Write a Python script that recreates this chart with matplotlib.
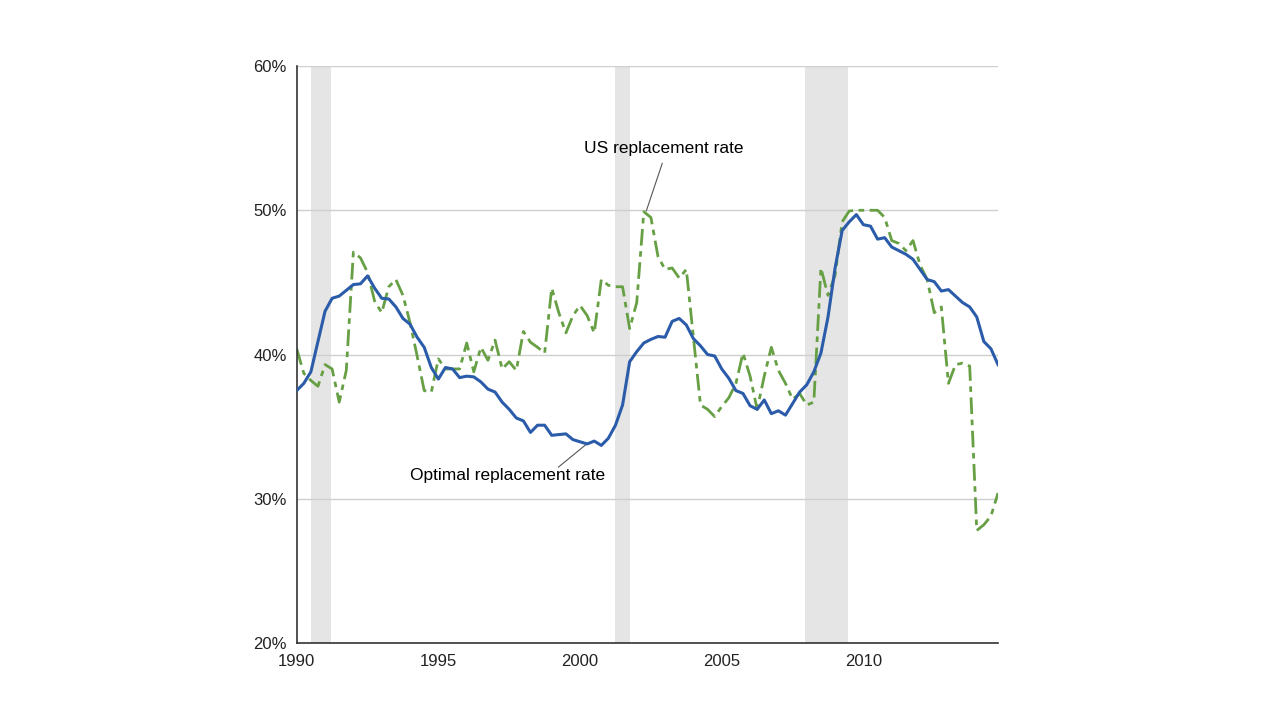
import numpy as np
import matplotlib
matplotlib.use("Agg")
import matplotlib.pyplot as plt
from matplotlib.ticker import FuncFormatter

# quarterly, 1990Q1 .. 2014Q4
quarters = 1990 + np.arange(100) / 4.0

optimal_rate = [
    37.5, 38.0, 38.8, 40.9, 43.0, 43.9, 44.05, 44.45, 44.85, 44.9,
    45.45, 44.6, 43.9, 43.85, 43.3, 42.5, 42.1, 41.2, 40.5, 39.1,
    38.3, 39.1, 39.0, 38.4, 38.5, 38.45, 38.1, 37.6, 37.4, 36.7,
    36.2, 35.6, 35.4, 34.6, 35.1, 35.1, 34.4, 34.45, 34.5, 34.1,
    33.95, 33.8, 34.0, 33.7, 34.2, 35.1, 36.5, 39.5, 40.2, 40.8,
    41.05, 41.25, 41.2, 42.3, 42.5, 42.05, 41.1, 40.6, 40.0, 39.9,
    39.0, 38.35, 37.5, 37.3, 36.45, 36.2, 36.85, 35.9, 36.1, 35.8,
    36.6, 37.4, 37.9, 38.8, 40.1, 42.6, 46.0, 48.6, 49.2, 49.7,
    49.0, 48.9, 48.0, 48.1, 47.45, 47.2, 46.95, 46.6, 45.9, 45.2,
    45.05, 44.4, 44.5, 44.05, 43.6, 43.3, 42.6, 40.9, 40.4, 39.3,
]

us_rate = [
    40.4, 38.7, 38.2, 37.8, 39.3, 39.0, 36.7, 38.9, 47.1, 46.7,
    45.7, 43.7, 42.9, 44.7, 45.2, 44.1, 42.2, 39.9, 37.5, 37.4,
    39.7, 39.0, 39.0, 39.0, 40.8, 38.8, 40.5, 39.6, 41.0, 39.0,
    39.5, 38.9, 41.6, 40.85, 40.5, 40.1, 44.6, 42.9, 41.5, 42.7,
    43.4, 42.7, 41.5, 45.2, 44.8, 44.7, 44.7, 41.8, 43.6, 49.9,
    49.5, 46.8, 45.9, 46.0, 45.3, 45.9, 41.2, 36.5, 36.2, 35.7,
    36.4, 37.0, 38.0, 40.1, 38.5, 36.2, 38.5, 40.5, 38.9, 38.0,
    36.9, 37.3, 36.5, 36.7, 46.0, 44.1, 45.5, 49.2, 49.95, 50.0,
    50.0, 50.0, 50.0, 49.5, 47.9, 47.7, 47.2, 47.9, 46.2, 45.2,
    42.9, 43.3, 38.0, 39.3, 39.4, 39.2, 27.8, 28.2, 28.8, 30.4,
]

recessions = [(1990.5, 1991.22), (2001.25, 2001.75), (2007.95, 2009.45)]

plt.rcParams['font.family'] = ['Liberation Sans', 'DejaVu Sans']

fig = plt.figure(figsize=(12.8, 7.2), dpi=100)
ax = fig.add_axes([0.2318, 0.1069, 0.5479, 0.8014])

for start, end in recessions:
    ax.axvspan(start, end, color='#e5e5e5', lw=0, zorder=0)

ax.plot(quarters, optimal_rate, color='#2b5caa', lw=2.2, zorder=3)
ax.plot(quarters, us_rate, color='#67a044', lw=2.0,
        linestyle=(0, (6, 2, 2, 2)), zorder=2)

ax.set_xlim(1990, 2014.75)
ax.set_ylim(20, 60)
ax.set_yticks([20, 30, 40, 50, 60])
ax.set_xticks([1990, 1995, 2000, 2005, 2010])
ax.yaxis.set_major_formatter(FuncFormatter(lambda v, p: f"{v:.0f}%"))
ax.grid(axis='y', color='#cfcfcf', lw=1, zorder=1)
ax.set_axisbelow(True)

for side in ['top', 'right']:
    ax.spines[side].set_visible(False)
for side in ['left', 'bottom']:
    ax.spines[side].set_color('#333333')
    ax.spines[side].set_linewidth(1.2)
ax.tick_params(length=0, labelsize=12, colors='#222222')
ax.tick_params(axis='y', pad=7)
ax.tick_params(axis='x', pad=8)

# labels with thin leader lines
ax.text(2002.95, 54.3, 'US replacement rate', ha='center', va='center', fontsize=12.5)
ax.plot([2002.9, 2002.34], [53.25, 49.97], color='#555555', lw=0.8)
ax.text(1997.44, 31.58, 'Optimal replacement rate', ha='center', va='center', fontsize=12.5)
ax.plot([1999.24, 2000.19], [32.2, 33.73], color='#555555', lw=0.8)

fig.savefig('out.png', dpi=100)
